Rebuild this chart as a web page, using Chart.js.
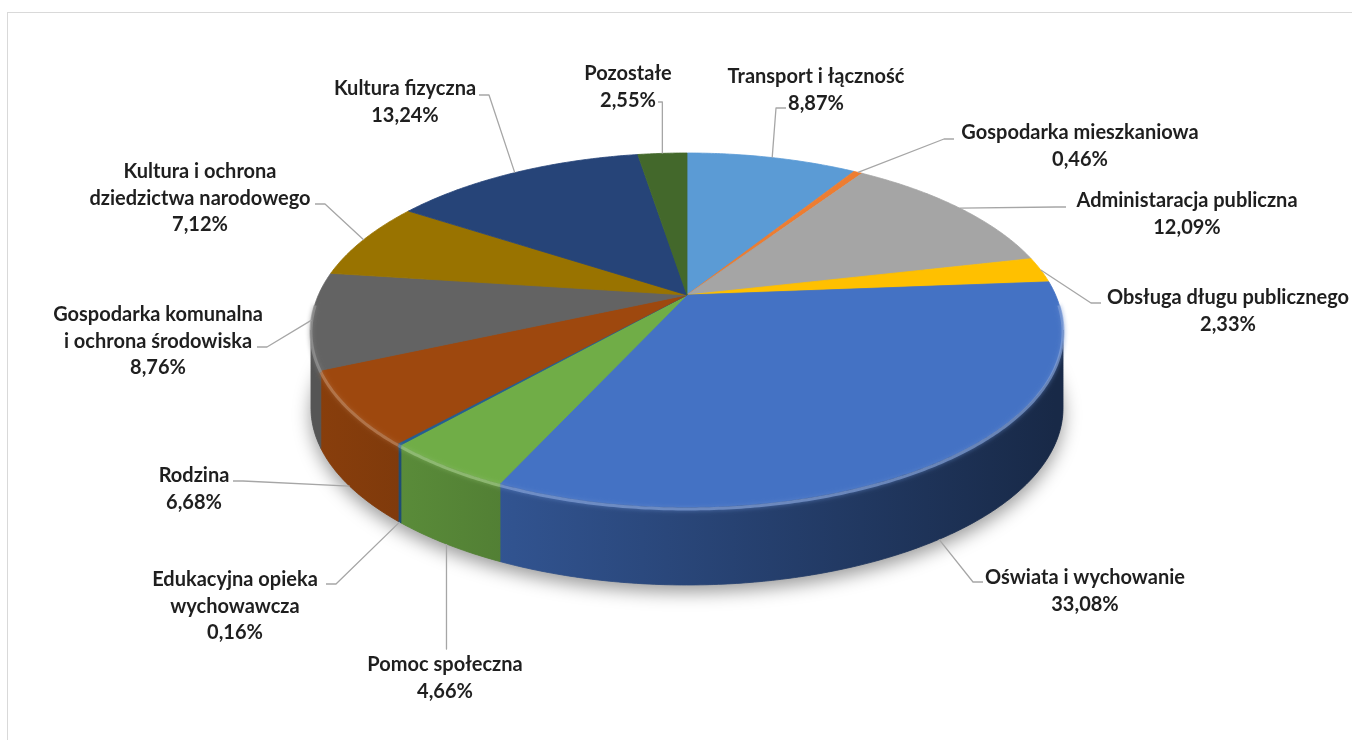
<!DOCTYPE html>
<html lang="pl">
<head>
<meta charset="utf-8">
<title>Struktura wydatków</title>
<script src="https://cdn.jsdelivr.net/npm/chart.js@4.4.1/dist/chart.umd.min.js"></script>
<style>
  html, body { margin: 0; padding: 0; background: #fff; overflow: hidden; }
  #frame { position: absolute; left: 7px; top: 12px; width: 1400px; height: 800px; border: 1px solid #d9d9d9; }
  #chart { position: absolute; left: 0; top: 0; }
</style>
</head>
<body>
<div id="frame"></div>
<canvas id="chart" width="1352" height="740"></canvas>
<script>
const categories = [
    ['Transport i łączność'],
    ['Gospodarka mieszkaniowa'],
    ['Administaracja publiczna'],
    ['Obsługa długu publicznego'],
    ['Oświata i wychowanie'],
    ['Pomoc społeczna'],
    ['Edukacyjna opieka', 'wychowawcza'],
    ['Rodzina'],
    ['Gospodarka komunalna', 'i ochrona środowiska'],
    ['Kultura i ochrona', 'dziedzictwa narodowego'],
    ['Kultura fizyczna'],
    ['Pozostałe']
];
const shares = [8.87, 0.46, 12.09, 2.33, 33.08, 4.66, 0.16, 6.68, 8.76, 7.12, 13.24, 2.55];
const colors = ['#5B9BD5', '#ED7D31', '#A5A5A5', '#FFC000', '#4472C4', '#70AD47',
    '#255E91', '#9E480E', '#636363', '#997300', '#264478', '#43682B'];

// label placement: text centre x, first line centre y, leader end x, leader end y
const labelSpots = [
    [816, 77, 786, 108],
    [1080, 133, 954, 139],
    [1187, 201, 1066, 207],
    [1228, 298, 1101, 303],
    [1085, 578, 983, 582],
    [445, 665, 447, 649],
    [235, 580, 326, 584],
    [194, 476, 233, 481],
    [158, 315, 257, 347],
    [200, 172, 315, 204],
    [405, 89, 479, 95],
    [628, 74, 658, 102]
];

// tilted disc: centre, radius, perspective terms and side depth
const geo = { cx: 687, cy: 295, r: 368.6, b: -111.75, c: 0.1977, depth: 78 };

const project = (a, drop) => {
    const x = Math.cos(a), z = -Math.sin(a);
    const den = 1 + geo.c * z;
    return [geo.cx + geo.r * x / den, (geo.cy + geo.b * z) / den + (drop ? geo.depth : 0)];
};

const rim = (from, to, drop) => {
    const n = Math.max(2, Math.ceil(Math.abs(to - from) / 0.01));
    const pts = [];
    for (let k = 0; k <= n; k++) pts.push(project(from + (to - from) * k / n, drop));
    return pts;
};

const shade = (hex, f) => {
    const v = parseInt(hex.slice(1), 16);
    const ch = [(v >> 16) & 255, (v >> 8) & 255, v & 255].map(c => Math.round(f > 1 ? c + (255 - c) * (f - 1) : c * f));
    return `rgb(${ch.join(',')})`;
};

const pie3d = {
    id: 'pie3d',
    beforeDatasetsDraw(chart) {
        const ctx = chart.ctx;
        const arcs = chart.getDatasetMeta(0).data;
        const lo = Math.asin(geo.c), hi = Math.PI - lo;

        // soft shadow under the disc
        ctx.save();
        ctx.beginPath();
        rim(0, Math.PI * 2, true).forEach((p, k) => k ? ctx.lineTo(p[0], p[1]) : ctx.moveTo(p[0], p[1]));
        ctx.closePath();
        ctx.shadowColor = 'rgba(0,0,0,0.4)';
        ctx.shadowBlur = 18;
        ctx.shadowOffsetY = 7;
        ctx.fillStyle = '#7f7f7f';
        ctx.fill();
        ctx.restore();

        // front walls
        arcs.forEach(arc => {
            const s = Math.max(arc.startAngle, lo), e = Math.min(arc.endAngle, hi);
            if (e <= s) return;
            const col = arc.options.backgroundColor;
            const pts = rim(s, e, false).concat(rim(e, s, true));
            ctx.beginPath();
            pts.forEach((p, k) => k ? ctx.lineTo(p[0], p[1]) : ctx.moveTo(p[0], p[1]));
            ctx.closePath();
            const g = ctx.createLinearGradient(geo.cx - geo.r, 0, geo.cx + geo.r, 0);
            g.addColorStop(0, shade(col, 0.86));
            g.addColorStop(1, shade(col, 0.36));
            ctx.fillStyle = g;
            ctx.strokeStyle = g;
            ctx.lineWidth = 0.8;
            ctx.fill();
            ctx.stroke();
        });

        // top faces
        arcs.forEach(arc => {
            const col = arc.options.backgroundColor;
            ctx.beginPath();
            ctx.moveTo(geo.cx, geo.cy);
            rim(arc.startAngle, arc.endAngle, false).forEach(p => ctx.lineTo(p[0], p[1]));
            ctx.closePath();
            ctx.fillStyle = col;
            ctx.strokeStyle = col;
            ctx.lineWidth = 0.8;
            ctx.lineJoin = 'round';
            ctx.fill();
            ctx.stroke();
        });

        // light bevel along the front edge
        arcs.forEach(arc => {
            const s = Math.max(arc.startAngle, lo - 0.15), e = Math.min(arc.endAngle, hi + 0.15);
            if (e <= s) return;
            ctx.save();
            ctx.beginPath();
            rim(s, e, false).forEach((p, k) => k ? ctx.lineTo(p[0], p[1] + 2) : ctx.moveTo(p[0], p[1] + 2));
            ctx.strokeStyle = shade(arc.options.backgroundColor, 1.35);
            ctx.globalAlpha = 0.65;
            ctx.lineWidth = 3;
            ctx.shadowColor = shade(arc.options.backgroundColor, 1.2);
            ctx.shadowBlur = 4;
            ctx.stroke();
            ctx.restore();
        });
        return false;
    },
    afterDraw(chart) {
        const ctx = chart.ctx;
        const arcs = chart.getDatasetMeta(0).data;
        const lo = Math.asin(geo.c), hi = Math.PI - lo;
        ctx.save();
        arcs.forEach((arc, i) => {
            const mid = (arc.startAngle + arc.endAngle) / 2;
            const anchor = project(mid, mid > lo && mid < hi);
            const [tx, ty, ex, ey] = labelSpots[i];
            const dx = anchor[0] - ex;
            const tick = Math.sign(dx) * Math.min(10, Math.abs(dx));

            ctx.beginPath();
            ctx.moveTo(ex, ey);
            ctx.lineTo(ex + tick, ey);
            ctx.lineTo(anchor[0], anchor[1]);
            ctx.strokeStyle = '#a6a6a6';
            ctx.lineWidth = 1.3;
            ctx.stroke();

            const lines = chart.data.labels[i].concat(shares[i].toFixed(2).replace('.', ',') + '%');
            ctx.fillStyle = '#1f1f1f';
            ctx.font = '700 20px Lato';
            ctx.textAlign = 'center';
            ctx.textBaseline = 'middle';
            lines.forEach((t, k) => ctx.fillText(t, tx, ty + k * 26.5));
        });
        ctx.restore();
    }
};

new Chart(document.getElementById('chart'), {
    type: 'pie',
    data: {
        labels: categories,
        datasets: [{
            data: shares,
            backgroundColor: colors,
            borderWidth: 0
        }]
    },
    options: {
        responsive: false,
        animation: false,
        devicePixelRatio: 1,
        plugins: { legend: { display: false }, tooltip: { enabled: false } }
    },
    plugins: [pie3d]
});
</script>
</body>
</html>
